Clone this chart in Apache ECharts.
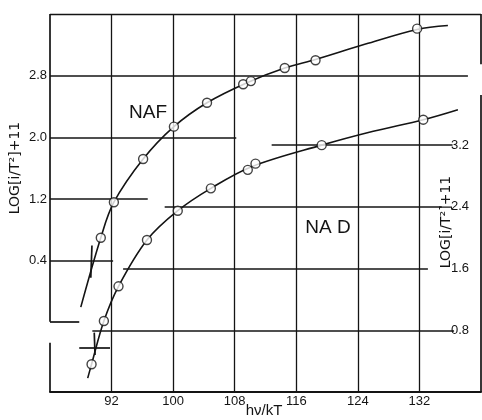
<!DOCTYPE html>
<html>
<head>
<meta charset="utf-8">
<script src="https://cdn.jsdelivr.net/npm/echarts@6/dist/echarts.min.js"></script>
<style>
  html, body { margin: 0; background: #fff; }
  #chart { width: 482px; height: 420px; }
</style>
</head>
<body>
<div id="chart"></div>
<script>
// axis ticks
const xTicks = [92, 100, 108, 116, 124, 132];
const leftTicks = [0.4, 1.2, 2.0, 2.8];
const rightTicks = [0.8, 1.6, 2.4, 3.2];

// NaF, read on the left scale
const nafX = [90.6, 92.3, 96.1, 100.1, 104.4, 109.1, 110.1, 114.5, 118.5, 131.7];
const nafY = [0.70, 1.16, 1.72, 2.14, 2.45, 2.69, 2.73, 2.90, 3.00, 3.41];
const nafCurveX = [88.0, 90.6, 92.3, 96.1, 100.1, 104.4, 109.6, 114.5, 118.5, 125.0, 131.7, 135.7];
const nafCurveY = [-0.20, 0.70, 1.16, 1.72, 2.14, 2.45, 2.71, 2.90, 3.01, 3.21, 3.40, 3.45];

// NaD, read on the right scale
const nadX = [89.4, 91.0, 92.9, 96.6, 100.6, 104.9, 109.7, 110.7, 119.3, 132.5];
const nadY = [0.36, 0.92, 1.37, 1.97, 2.35, 2.64, 2.88, 2.96, 3.20, 3.53];
const nadCurveX = [88.9, 89.4, 91.0, 92.9, 96.6, 100.6, 104.9, 110.2, 119.3, 126.0, 132.5, 137.0];
const nadCurveY = [0.18, 0.36, 0.92, 1.37, 1.97, 2.35, 2.64, 2.92, 3.20, 3.38, 3.53, 3.66];

// partial horizontal rules (start/end in x units)
const leftRuleStart = [84, 84, 84, 84];
const leftRuleEnd = [92.2, 96.7, 108.2, 138.3];
const rightRuleStart = [89.5, 93.5, 98.9, 112.8];
const rightRuleEnd = [136.5, 133.1, 134.9, 136.3];

const zip = (a, b) => a.map((v, i) => [v, b[i]]);
const ink = '#141414';
const seg = (x0, y0, x1, y1) => [{ coord: [x0, y0] }, { coord: [x1, y1] }];

const leftLines = leftTicks.map((y, i) => seg(leftRuleStart[i], y, leftRuleEnd[i], y));
// broken left axis, with its stub, and the small cross on NaF
leftLines.push(seg(84, 3.6, 84, -0.39));
leftLines.push(seg(84, -0.39, 87.8, -0.39));
leftLines.push(seg(84, -0.66, 84, -1.3));
leftLines.push(seg(89.45, 0.60, 89.3, 0.18));

const rightLines = rightTicks.map((y, i) => seg(rightRuleStart[i], y, rightRuleEnd[i], y));
// broken right axis and the cross on NaD
rightLines.push(seg(140, 4.9, 140, 4.25));
rightLines.push(seg(140, 3.85, 140, 0));
rightLines.push(seg(87.8, 0.58, 91.8, 0.58));
rightLines.push(seg(89.75, 0.77, 89.85, 0.48));

const gridLines = xTicks.map(x => ({ xAxis: x }));
gridLines.push({ yAxis: 3.6 });

const lineMark = (data, width) => ({
    silent: true,
    symbol: ['none', 'none'],
    label: { show: false },
    lineStyle: { color: ink, width: width, type: 'solid' },
    data: data
});

const label = (text, x, y, size, rotate) => ({
    type: 'text', x: x, y: y, rotation: rotate ? Math.PI / 2 : 0,
    style: { text: text, fontSize: size, fontFamily: rotate ? 'DejaVu Sans' : 'Liberation Sans',
             fill: ink, align: 'center', verticalAlign: 'middle' }
});

const chart = echarts.init(document.getElementById('chart'));
chart.setOption({
    animation: false,
    backgroundColor: '#fff',
    textStyle: { fontFamily: 'Liberation Sans', color: ink },
    grid: { left: 50, right: 1, top: 14, bottom: 28, outerBoundsMode: 'none' },
    xAxis: {
        type: 'value', min: 84, max: 140,
        axisLine: { onZero: false, lineStyle: { color: ink, width: 2 } },
        axisTick: { show: false },
        splitLine: { show: false },
        axisLabel: { customValues: xTicks, fontSize: 13, color: ink, margin: 3 }
    },
    yAxis: [
        {
            type: 'value', min: -1.3, max: 3.6,
            axisLine: { show: false }, axisTick: { show: false }, splitLine: { show: false },
            axisLabel: { customValues: leftTicks, fontSize: 13, color: ink, margin: 3,
                formatter: v => v.toFixed(1) }
        },
        {
            type: 'value', min: 0, max: 4.9, position: 'right',
            axisLine: { show: false }, axisTick: { show: false }, splitLine: { show: false },
            axisLabel: { customValues: rightTicks, inside: true, fontSize: 13, color: ink, margin: 12,
                formatter: v => v.toFixed(1) }
        }
    ],
    graphic: [
        label('LOG[i/T²]+11', 15, 168, 14, true),
        label('LOG[i/T²]+11', 446, 222, 14, true),
        label('hν/kT', 264, 411, 15, false),
        label('NAF', 148, 113, 19, false),
        label('NA D', 328, 228, 19, false)
    ],
    series: [
        {
            name: 'rules', type: 'line', data: [], xAxisIndex: 0, yAxisIndex: 0,
            markLine: lineMark(gridLines, 1.3)
        },
        {
            name: 'NaF curve', type: 'line', yAxisIndex: 0,
            data: zip(nafCurveX, nafCurveY), smooth: 0.35, showSymbol: false,
            lineStyle: { color: ink, width: 1.6 },
            markLine: lineMark(leftLines, 1.7)
        },
        {
            name: 'NaF', type: 'scatter', yAxisIndex: 0, z: 5,
            data: zip(nafX, nafY), symbol: 'circle', symbolSize: 9,
            itemStyle: { color: '#fff', borderColor: ink, borderWidth: 1.4 }
        },
        {
            name: 'NaD curve', type: 'line', yAxisIndex: 1,
            data: zip(nadCurveX, nadCurveY), smooth: 0.35, showSymbol: false,
            lineStyle: { color: ink, width: 1.6 },
            markLine: lineMark(rightLines, 1.7)
        },
        {
            name: 'NaD', type: 'scatter', yAxisIndex: 1, z: 5,
            data: zip(nadX, nadY), symbol: 'circle', symbolSize: 9,
            itemStyle: { color: '#fff', borderColor: ink, borderWidth: 1.4 }
        }
    ]
});
</script>
</body>
</html>
